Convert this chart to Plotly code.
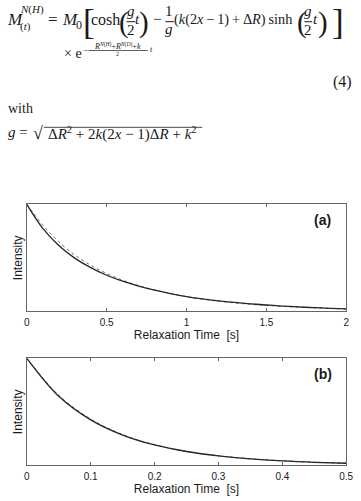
import plotly.graph_objects as go

W, H = 361, 501

# ---------------- data ----------------
t_a = [0.0, 0.1, 0.2, 0.3, 0.4, 0.5, 0.6, 0.7, 0.8, 0.9, 1.0,
       1.1, 1.2, 1.3, 1.4, 1.5, 1.6, 1.7, 1.8, 1.9, 2.0]
solid_a = [1.000, 0.775, 0.615, 0.497, 0.408, 0.337, 0.281, 0.236, 0.198, 0.166, 0.138,
           0.116, 0.098, 0.083, 0.070, 0.059, 0.049, 0.041, 0.034, 0.028, 0.023]
dotted_a = [1.000, 0.805, 0.650, 0.527, 0.430, 0.353, 0.290, 0.240, 0.199, 0.165, 0.137,
            0.114, 0.095, 0.079, 0.066, 0.055, 0.046, 0.038, 0.032, 0.027, 0.022]

t_b = [0.0, 0.05, 0.1, 0.15, 0.2, 0.25, 0.3, 0.35, 0.4, 0.45, 0.5]
solid_b = [1.000, 0.645, 0.425, 0.283, 0.190, 0.129, 0.088, 0.060, 0.041, 0.028, 0.019]
dotted_b = [1.000, 0.655, 0.432, 0.287, 0.192, 0.130, 0.089, 0.061, 0.042, 0.029, 0.020]

ticks_a = [0, 0.5, 1, 1.5, 2]
ticklabels_a = ["0", "0.5", "1", "1.5", "2"]
ticks_b = [0, 0.1, 0.2, 0.3, 0.4, 0.5]
ticklabels_b = ["0", "0.1", "0.2", "0.3", "0.4", "0.5"]

# ---------------- helpers ----------------
SERIF = "Liberation Serif"
SANS = "Liberation Sans"
TXT = "#1a1a1a"

def px(x):
    return x / W

def py(y):
    return 1 - y / H

annotations = []
shapes = []

def txt(s, x, y, size, anchor="left", family=SERIF, color=TXT):
    annotations.append(dict(text=s, x=px(x), y=py(y), xref="paper", yref="paper",
                            xanchor=anchor, yanchor="middle", showarrow=False,
                            borderpad=0, font=dict(family=family, size=size, color=color)))

def hline(x0, x1, y, w=1.0):
    shapes.append(dict(type="line", xref="paper", yref="paper",
                       x0=px(x0), x1=px(x1), y0=py(y), y1=py(y),
                       line=dict(color=TXT, width=w)))

# ---------------- equation (4) ----------------
F = 15
txt("<i>M</i>", 3, 19, 17)
txt("<i>N</i>(<i>H</i>)", 16, 9, 11)
txt("(<i>t</i>)", 16, 26, 11)
txt("=", 51.5, 19, 17, anchor="center")
txt("<i>M</i>", 60, 19, 17)
txt("0", 74, 25, 12)
txt("[", 81, 23, 35)
txt("cosh", 89, 19, 16)
txt("(", 118, 23, 29)
txt("<i>g</i>", 131.5, 11, F, anchor="center")
hline(127, 136, 21.7)
txt("2", 131.5, 30, F, anchor="center")
txt("<i>t</i>", 134.5, 19, F)
txt(")", 139, 23, 29)
txt("\u2212", 158, 19, F, anchor="center")
txt("1", 171, 11, F, anchor="center")
hline(167, 176, 21.7)
txt("<i>g</i>", 171, 29, F, anchor="center")
txt("(<i>k</i>(2<i>x</i>\u2009\u2212\u20091)\u2009+\u2009\u0394<i>R</i>)\u2009sinh", 175, 19, 14.3)
txt("(", 301, 23, 29)
txt("<i>g</i>", 314, 11, F, anchor="center")
hline(310, 318, 21.7)
txt("2", 314, 30, F, anchor="center")
txt("<i>t</i>", 318, 19, F)
txt(")", 323, 23, 29)
txt("]", 337, 23, 35)

# second line: exponential factor
txt("\u00d7 e", 62, 53, 14)
txt("\u2212", 85, 50, 9, anchor="center")
txt("<i>R</i><sup><i>N</i>(<i>H</i>)</sup>+<i>R</i><sup><i>N</i>(<i>D</i>)</sup>+<i>k</i>", 118, 46, 8, anchor="center")
hline(88, 149, 50.5, 0.7)
txt("2", 118, 54, 6, anchor="center")
txt("<i>t</i>", 150, 50, 8)

txt("(4)", 360, 82, 16, anchor="right")
txt("with", 4, 108, 14)

# g definition
txt("<i>g</i> =", 4, 132, 15)
txt("\u221a", 30, 133, 18)
hline(42, 205, 127.3, 0.8)
txt("\u0394<i>R</i><sup>2</sup> + 2<i>k</i>(2<i>x</i> \u2212 1)\u0394<i>R</i> + <i>k</i><sup>2</sup>", 45, 133, 15)

# ---------------- panel labels ----------------
txt("<b>(a)</b>", 329, 220, 14, anchor="center", family=SANS)
txt("<b>(b)</b>", 329, 374, 14, anchor="center", family=SANS)

# ---------------- figure ----------------
fig = go.Figure()
fig.add_trace(go.Scatter(x=t_a, y=dotted_a, mode="lines", line=dict(color="#6a6a6a", width=1, dash="dot", shape="spline"),
                         xaxis="x", yaxis="y", showlegend=False))
fig.add_trace(go.Scatter(x=t_a, y=solid_a, mode="lines", line=dict(color="#262626", width=1.3, shape="spline"),
                         xaxis="x", yaxis="y", showlegend=False))
fig.add_trace(go.Scatter(x=t_b, y=dotted_b, mode="lines", line=dict(color="#6a6a6a", width=1, dash="dot", shape="spline"),
                         xaxis="x2", yaxis="y2", showlegend=False))
fig.add_trace(go.Scatter(x=t_b, y=solid_b, mode="lines", line=dict(color="#262626", width=1.3, shape="spline"),
                         xaxis="x2", yaxis="y2", showlegend=False))

xdom = [px(24.5), px(353)]
xcommon = dict(domain=xdom, showgrid=False, zeroline=False, showline=True, linecolor="#666666",
               linewidth=1, mirror="ticks", ticks="inside", ticklen=3, tickcolor="#666666",
               tickfont=dict(family=SANS, size=10, color=TXT), ticklabelstandoff=2)
ycommon = dict(showgrid=False, zeroline=False, showline=True, linecolor="#666666", linewidth=1,
               mirror=True, ticks="", showticklabels=False, range=[0, 1], fixedrange=True)
xtitle = dict(text="Relaxation Time\u00a0 [s]", font=dict(family=SANS, size=12, color=TXT), standoff=2)
ytitle = dict(text="Intensity", font=dict(family=SANS, size=12, color=TXT), standoff=0)

fig.update_layout(
    width=W, height=H, margin=dict(l=0, r=0, t=0, b=0),
    paper_bgcolor="white", plot_bgcolor="white",
    xaxis=dict(xcommon, anchor="y", range=[0, 2], tickvals=ticks_a, ticktext=ticklabels_a, title=xtitle),
    yaxis=dict(ycommon, anchor="x", domain=[py(311.3), py(204.3)], title=ytitle),
    xaxis2=dict(xcommon, anchor="y2", range=[0, 0.5], tickvals=ticks_b, ticktext=ticklabels_b, title=xtitle),
    yaxis2=dict(ycommon, anchor="x2", domain=[py(465.3), py(358.3)], title=ytitle),
    annotations=annotations, shapes=shapes,
)

fig.write_html("out.html")
